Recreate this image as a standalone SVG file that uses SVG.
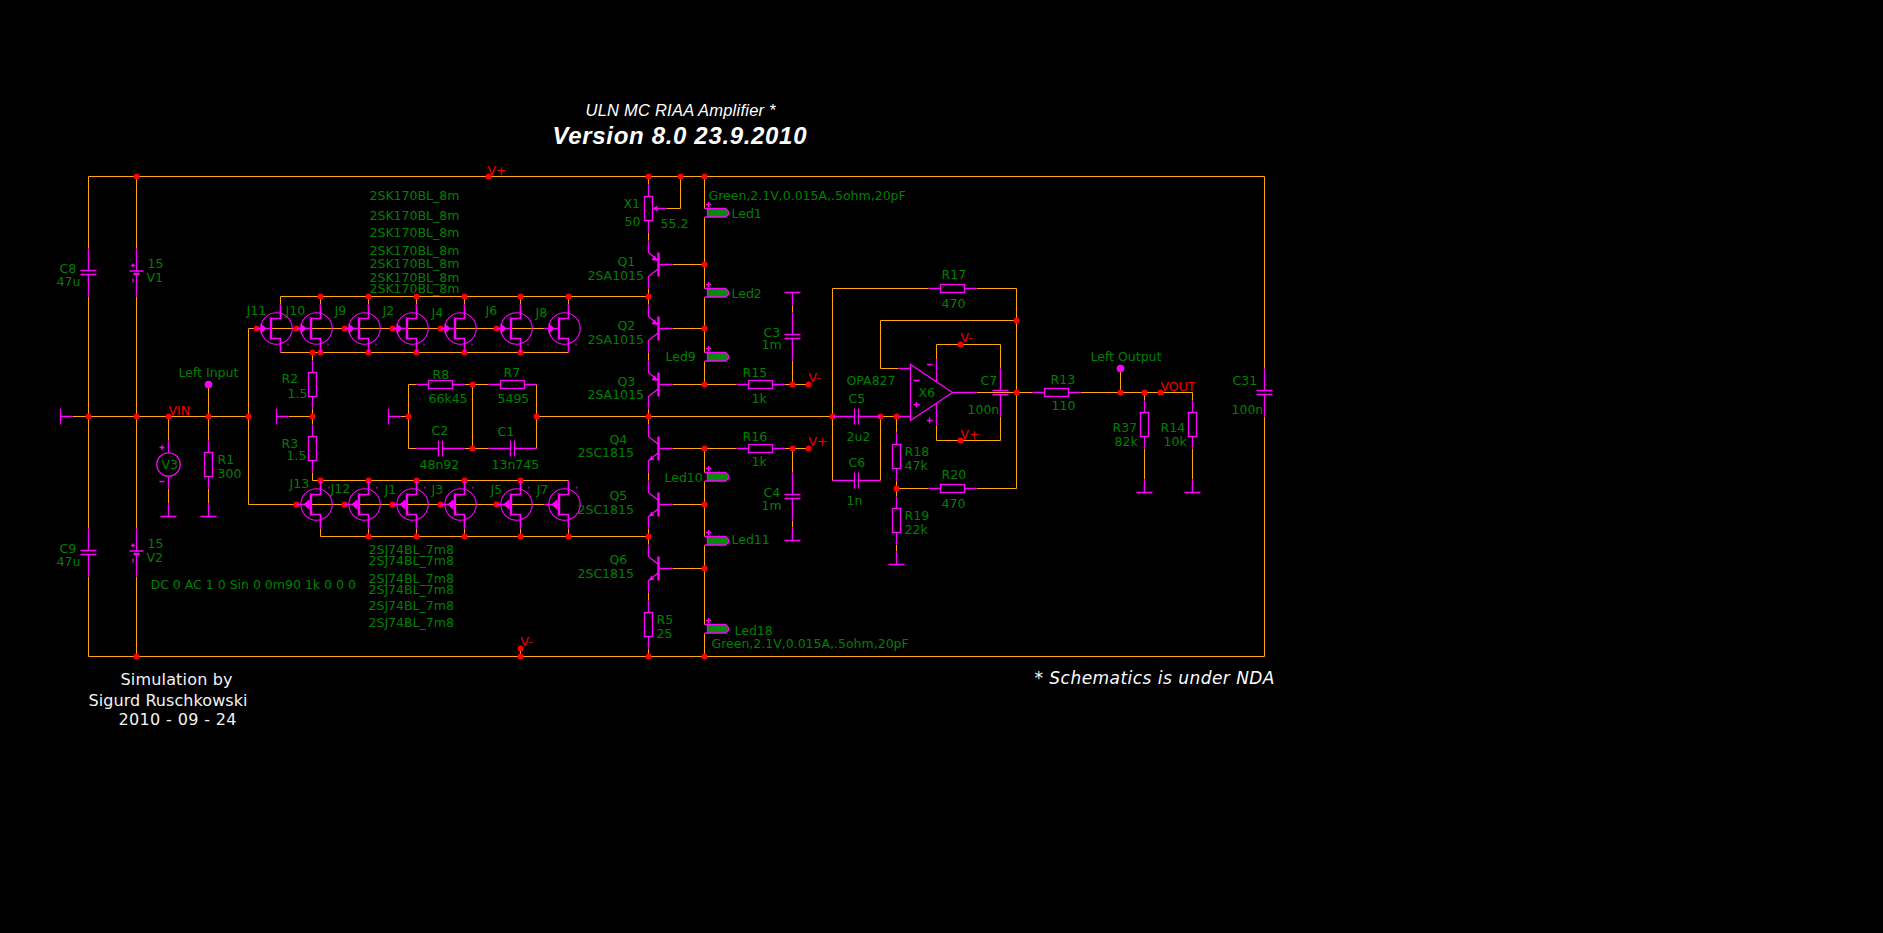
<svg xmlns="http://www.w3.org/2000/svg" width="1883" height="933" viewBox="0 0 1883 933">
<style>
.w{fill:none;stroke:#ffa80a;stroke-width:1}
.m{fill:none;stroke:#f0f;stroke-width:1.3}
.t{fill:none;stroke:#f0f;stroke-width:1.7}
.c{fill:none;stroke:#f0f;stroke-width:1.1}
.p{fill:#f0f;stroke:none}
.b{fill:none;stroke:#f0f;stroke-width:2.400}
.l{fill:#078a07;stroke:#f0f;stroke-width:1.3}
.e{fill:#f00}
text{font-family:"DejaVu Sans","Liberation Sans",sans-serif;font-size:12.5px;fill:#008000}
text.r{fill:#f00000}
text.wh{fill:#f4f4f4;font-size:16px}
text.nda{fill:#fff;font-size:17px;font-style:italic}
text.t1{fill:#fff;font-family:"Liberation Sans",Arial,sans-serif;font-style:italic;font-size:16.5px}
text.t2{fill:#fff;font-family:"Liberation Sans",Arial,sans-serif;font-style:italic;font-weight:bold;font-size:24px}
</style>
<defs>
<g id="rh"><path class="m" d="M-24 0H-12M12 0H24"/><rect class="m" x="-12" y="-4" width="24" height="8"/></g>
<g id="rv"><path class="m" d="M0 -24V-12M0 12V24"/><rect class="m" x="-4" y="-12" width="8" height="24"/></g>
<path id="ch" class="m" d="M-24 0H-2M2 0H24M-2 -8V8M2 -8V8"/>
<path id="cv" class="m" d="M0 -24V-2M0 2V24M-8 -2H8M-8 2H8"/>
<path id="gd" class="m" d="M-8 0H8M0 0V-13"/>
<path id="gu" class="m" d="M-8 0H8M0 0V13"/>
<path id="gl" class="m" d="M0 -8V8M0 0H12"/>
<path id="bat" class="m" d="M0 -24V-2M0 2V24M-7 -1.500H7M-3 2H3M-3 1H3M-5.500 -7H-1.500M-3.500 -9V-5M-3.500 6V10"/>
<g id="led"><path class="l" d="M3 0H21L24 3V6L21 8.500H3Z"/><path class="m" d="M0 0H3M0 8.500H3M4 -6.500V-1.500M1.500 -4H6.500"/></g>
<g id="jn"><circle class="c" cx="-4" r="15.700"/><path class="t" d="M0 -24V-10H-9.500M0 24V10H-9.500M-24 0H-9.500"/><path class="b" d="M-9.500 -11V11"/><polygon class="p" points="-20,-5.500 -14,0 -20,5.500"/><rect class="p" x="7" y="15" width="1" height="2"/></g>
<g id="jp"><circle class="c" cx="-4" r="15.700"/><path class="t" d="M0 -24V-10H-9.500M0 24V10H-9.500M-24 0H-9.500"/><path class="b" d="M-9.500 -11V11"/><polygon class="p" points="-11,-5.500 -17,0 -11,5.500"/><rect class="p" x="8" y="-18" width="1" height="2"/></g>
<g id="qp"><path class="m" d="M0 -24V-12L10 -4M10 4L0 12V24M11 0H24"/><path class="b" d="M10 -12V12"/><polygon class="p" points="9,-3.500 3,-4.500 6,-9"/></g>
<g id="qn"><path class="m" d="M0 -24V-12L10 -4M10 4L0 12V24M11 0H24"/><path class="b" d="M10 -12V12"/><polygon class="p" points="0,12 6,11 3,7"/></g>
<circle id="n" class="e" r="2.900"/>
<circle id="mn" class="p" r="3.800"/>
</defs>
<rect width="1883" height="933" fill="#000"/>
<g transform="translate(.5 .5)">
<g id="connectors">
<path class="w" d="M88 248V176H1264V368M1264 416V656H88V576M88 528V296M136 176V248M136 296V528M136 576V656M72 416H248M248 328V504M248 328H544M248 504H544M168 416V440M168 488V503M208 384V440M208 488V503"/>
<path class="w" d="M648 296H280V304M320 296V304M368 296V304M416 296V304M464 296V304M520 296V304M568 296V304M280 352H568M312 352V360M312 408V424M312 472V480H568M288 416H312M400 416H408M408 384V448H416M408 384H416M464 384H488M464 448H488M536 384V448M472 384V448M536 416H832"/>
<path class="w" d="M320 528V536H648M368 528V536M416 528V536M464 528V536M520 528V536M568 528V536M520 648V656"/>
<path class="w" d="M648 176V184M648 232V240M648 288V304M648 352V360M648 408V424M648 472V480M648 528V544M648 592V600M648 648V656M666 208H680V176M704 176V208M704 217V288M704 297V352M704 361V384M704 448V472M704 481V536M704 545V624M704 633V656M672 264H704M672 328H704M672 384H736M672 448H736M672 504H704M672 568H704M784 384H808M784 448H808M792 305V312M792 360V384M792 448V472M792 520V527"/>
<path class="w" d="M928 288H832V480M976 288H1016V488H976M928 488H896M880 480V416M880 416H898M896 416V432M896 480V496M896 544V551M1016 320H880V368H898M936 359V344H1000V368M936 425V440H1000V416M976 392H1032M1080 392H1192V400M1144 392V400M1144 448V479M1192 448V479M1120 368V392"/>
<g id="junctions">
<use href="#n" x="136" y="176"/><use href="#n" x="488" y="176"/><use href="#n" x="648" y="176"/><use href="#n" x="680" y="176"/><use href="#n" x="704" y="176"/>
<use href="#n" x="88" y="416"/><use href="#n" x="136" y="416"/><use href="#n" x="168" y="416"/><use href="#n" x="208" y="416"/><use href="#n" x="248" y="416"/><use href="#n" x="312" y="416"/><use href="#n" x="408" y="416"/><use href="#n" x="536" y="416"/><use href="#n" x="648" y="416"/><use href="#n" x="832" y="416"/><use href="#n" x="880" y="416"/><use href="#n" x="896" y="416"/>
<use href="#n" x="320" y="296"/><use href="#n" x="368" y="296"/><use href="#n" x="416" y="296"/><use href="#n" x="464" y="296"/><use href="#n" x="520" y="296"/><use href="#n" x="568" y="296"/><use href="#n" x="648" y="296"/>
<use href="#n" x="312" y="352"/><use href="#n" x="320" y="352"/><use href="#n" x="368" y="352"/><use href="#n" x="416" y="352"/><use href="#n" x="464" y="352"/><use href="#n" x="520" y="352"/>
<use href="#n" x="256" y="328"/><use href="#n" x="296" y="328"/><use href="#n" x="344" y="328"/><use href="#n" x="392" y="328"/><use href="#n" x="440" y="328"/><use href="#n" x="496" y="328"/>
<use href="#n" x="320" y="480"/><use href="#n" x="368" y="480"/><use href="#n" x="416" y="480"/><use href="#n" x="464" y="480"/><use href="#n" x="520" y="480"/>
<use href="#n" x="296" y="504"/><use href="#n" x="344" y="504"/><use href="#n" x="392" y="504"/><use href="#n" x="440" y="504"/><use href="#n" x="496" y="504"/>
<use href="#n" x="368" y="536"/><use href="#n" x="416" y="536"/><use href="#n" x="464" y="536"/><use href="#n" x="520" y="536"/><use href="#n" x="568" y="536"/><use href="#n" x="648" y="536"/>
<use href="#n" x="472" y="384"/><use href="#n" x="472" y="448"/>
<use href="#n" x="704" y="264"/><use href="#n" x="704" y="328"/><use href="#n" x="704" y="384"/><use href="#n" x="704" y="448"/><use href="#n" x="704" y="504"/><use href="#n" x="704" y="568"/>
<use href="#n" x="792" y="384"/><use href="#n" x="808" y="384"/><use href="#n" x="792" y="448"/><use href="#n" x="808" y="448"/>
<use href="#n" x="1016" y="320"/><use href="#n" x="1016" y="392"/><use href="#n" x="896" y="488"/><use href="#n" x="960" y="344"/><use href="#n" x="960" y="440"/><use href="#n" x="1120" y="392"/><use href="#n" x="1144" y="392"/><use href="#n" x="1160" y="392"/>
<use href="#n" x="136" y="656"/><use href="#n" x="520" y="648"/><use href="#n" x="520" y="656"/><use href="#n" x="648" y="656"/><use href="#n" x="704" y="656"/>
</g>
</g>
<g id="net-labels">
<text class="r" x="487" y="174">V+</text><text class="r" x="520" y="645">V-</text><text class="r" x="168" y="414">VIN</text><text class="r" x="808" y="381">V-</text><text class="r" x="808" y="445">V+</text><text class="r" x="960" y="341">V-</text><text class="r" x="960" y="438">V+</text><text class="r" x="1160" y="390">VOUT</text>
</g>
<g id="titles">
<text class="t1" x="585" y="115" textLength="190">ULN MC RIAA Amplifier *</text>
<text class="t2" x="552" y="143" textLength="254">Version 8.0 23.9.2010</text>
<text class="nda" x="1034" y="683" textLength="240">* Schematics is under NDA</text>
<text class="wh" x="120" y="684" textLength="112">Simulation by</text>
<text class="wh" x="88" y="705" textLength="159">Sigurd Ruschkowski</text>
<text class="wh" x="118" y="724" textLength="118">2010 - 09 - 24</text>
<text x="150" y="588">DC 0 AC 1 0 Sin 0 0m90 1k 0 0 0</text>
</g>
<g id="gnd-left"><use href="#gl" x="60" y="416"/></g>
<g id="gnd-r2"><use href="#gl" x="276" y="416"/></g>
<g id="gnd-r8"><use href="#gl" x="388" y="416"/></g>
<g id="C8"><use href="#cv" x="88" y="272"/><text x="59" y="272">C8</text><text x="56" y="285">47u</text></g>
<g id="C9"><use href="#cv" x="88" y="552"/><text x="59" y="552">C9</text><text x="56" y="565">47u</text></g>
<g id="V1"><use href="#bat" x="136" y="272"/><text x="147" y="267">15</text><text x="146" y="281">V1</text></g>
<g id="V2"><use href="#bat" x="136" y="552"/><text x="147" y="547">15</text><text x="146" y="561">V2</text></g>
<g id="V3"><circle class="m" cx="168" cy="464" r="11.700"/><path class="m" d="M168 440V452M168 476V488M159 447H164M161.500 444.500V449.500M159 481H164"/><use href="#gd" x="168" y="516"/><text x="161" y="468">V3</text></g>
<g id="R1"><use href="#rv" x="208" y="464"/><use href="#gd" x="208" y="516"/><text x="217" y="463">R1</text><text x="217" y="477">300</text></g>
<g id="left-input"><use href="#mn" x="208" y="384"/><text x="178" y="376">Left Input</text></g>
<g id="R2"><use href="#rv" x="312" y="384"/><text x="281" y="382">R2</text><text x="287" y="397">1.5</text></g>
<g id="R3"><use href="#rv" x="312" y="448"/><text x="281" y="447">R3</text><text x="286" y="459">1.5</text></g>
<g id="R8"><use href="#rh" x="440" y="384"/><text x="432" y="378">R8</text><text x="428" y="402">66k45</text></g>
<g id="R7"><use href="#rh" x="512" y="384"/><text x="503" y="376">R7</text><text x="497" y="402">5495</text></g>
<g id="C2"><use href="#ch" x="440" y="448"/><text x="431" y="434">C2</text><text x="419" y="468">48n92</text></g>
<g id="C1"><use href="#ch" x="512" y="448"/><text x="497" y="435">C1</text><text x="491" y="468">13n745</text></g>
<g id="J11"><use href="#jn" x="280" y="328"/><text x="246" y="314">J11</text><text x="369" y="292">2SK170BL_8m</text></g>
<g id="J10"><use href="#jn" x="320" y="328"/><text x="285" y="314">J10</text><text x="369" y="281">2SK170BL_8m</text></g>
<g id="J9"><use href="#jn" x="368" y="328"/><text x="334" y="314">J9</text><text x="369" y="267">2SK170BL_8m</text></g>
<g id="J2"><use href="#jn" x="416" y="328"/><text x="382" y="314">J2</text><text x="369" y="254">2SK170BL_8m</text></g>
<g id="J4"><use href="#jn" x="464" y="328"/><text x="431" y="316">J4</text><text x="369" y="236">2SK170BL_8m</text></g>
<g id="J6"><use href="#jn" x="520" y="328"/><text x="485" y="314">J6</text><text x="369" y="219">2SK170BL_8m</text></g>
<g id="J8"><use href="#jn" x="568" y="328"/><text x="535" y="316">J8</text><text x="369" y="199">2SK170BL_8m</text></g>
<g id="J13"><use href="#jp" x="320" y="504"/><text x="289" y="487">J13</text><text x="368" y="553">2SJ74BL_7m8</text></g>
<g id="J12"><use href="#jp" x="368" y="504"/><text x="330" y="492">J12</text><text x="368" y="564">2SJ74BL_7m8</text></g>
<g id="J1"><use href="#jp" x="416" y="504"/><text x="384" y="493">J1</text><text x="368" y="582">2SJ74BL_7m8</text></g>
<g id="J3"><use href="#jp" x="464" y="504"/><text x="431" y="493">J3</text><text x="368" y="593">2SJ74BL_7m8</text></g>
<g id="J5"><use href="#jp" x="520" y="504"/><text x="490" y="493">J5</text><text x="368" y="609">2SJ74BL_7m8</text></g>
<g id="J7"><use href="#jp" x="568" y="504"/><text x="536" y="493">J7</text><text x="368" y="626">2SJ74BL_7m8</text></g>
<g id="X1"><use href="#rv" x="648" y="208"/><path class="m" d="M652 208H666"/><polygon class="p" points="652,208 657,205 657,211"/><text x="623" y="207">X1</text><text x="624" y="225">50</text><text x="660" y="227">55.2</text></g>
<g id="Q1"><use href="#qp" x="648" y="264"/><text x="617" y="265">Q1</text><text x="587" y="279">2SA1015</text></g>
<g id="Q2"><use href="#qp" x="648" y="328"/><text x="617" y="329">Q2</text><text x="587" y="343">2SA1015</text></g>
<g id="Q3"><use href="#qp" x="648" y="384"/><text x="617" y="385">Q3</text><text x="587" y="398">2SA1015</text></g>
<g id="Q4"><use href="#qn" x="648" y="448"/><text x="609" y="443">Q4</text><text x="577" y="456">2SC1815</text></g>
<g id="Q5"><use href="#qn" x="648" y="504"/><text x="609" y="499">Q5</text><text x="577" y="513">2SC1815</text></g>
<g id="Q6"><use href="#qn" x="648" y="568"/><text x="609" y="563">Q6</text><text x="577" y="577">2SC1815</text></g>
<g id="R5"><use href="#rv" x="648" y="624"/><text x="656" y="623">R5</text><text x="656" y="637">25</text></g>
<g id="Led1"><use href="#led" x="704" y="208"/><text x="731" y="217">Led1</text><text x="708" y="199">Green,2.1V,0.015A,.5ohm,20pF</text></g>
<g id="Led2"><use href="#led" x="704" y="288"/><text x="731" y="297">Led2</text></g>
<g id="Led9"><use href="#led" x="704" y="352"/><text x="665" y="360">Led9</text></g>
<g id="Led10"><use href="#led" x="704" y="472"/><text x="664" y="481">Led10</text></g>
<g id="Led11"><use href="#led" x="704" y="536"/><text x="731" y="543">Led11</text></g>
<g id="Led18"><use href="#led" x="704" y="624"/><text x="734" y="634">Led18</text><text x="711" y="647">Green,2.1V,0.015A,.5ohm,20pF</text></g>
<g id="R15"><use href="#rh" x="760" y="384"/><text x="742" y="376">R15</text><text x="751" y="402">1k</text></g>
<g id="R16"><use href="#rh" x="760" y="448"/><text x="742" y="440">R16</text><text x="751" y="465">1k</text></g>
<g id="C3"><use href="#cv" x="792" y="336"/><use href="#gu" x="792" y="292"/><text x="763" y="336">C3</text><text x="761" y="348">1m</text></g>
<g id="C4"><use href="#cv" x="792" y="496"/><use href="#gd" x="792" y="540"/><text x="763" y="496">C4</text><text x="761" y="509">1m</text></g>
<g id="C5"><use href="#ch" x="856" y="416"/><text x="848" y="402">C5</text><text x="846" y="440">2u2</text></g>
<g id="C6"><use href="#ch" x="856" y="480"/><text x="848" y="466">C6</text><text x="846" y="504">1n</text></g>
<g id="R17"><use href="#rh" x="952" y="288"/><text x="941" y="278">R17</text><text x="941" y="307">470</text></g>
<g id="R20"><use href="#rh" x="952" y="488"/><text x="941" y="478">R20</text><text x="941" y="507">470</text></g>
<g id="R18"><use href="#rv" x="896" y="456"/><text x="904" y="455">R18</text><text x="904" y="469">47k</text></g>
<g id="R19"><use href="#rv" x="896" y="520"/><use href="#gd" x="896" y="564"/><text x="904" y="519">R19</text><text x="904" y="533">22k</text></g>
<g id="X6"><polygon class="m" points="910,364 910,420 952,392"/><path class="m" d="M898 368H910M898 416H910M936 359V381M936 403V425M952 392H976M913 380H919M916 401.500V407M913 404H919M926.500 364H932M926.500 420H932M929 417V423"/><text x="918" y="396">X6</text><text x="846" y="384">OPA827</text></g>
<g id="C7"><use href="#cv" x="1000" y="392"/><text x="980" y="384">C7</text><text x="967" y="413">100n</text></g>
<g id="R13"><use href="#rh" x="1056" y="392"/><text x="1050" y="383">R13</text><text x="1051" y="409">110</text></g>
<g id="left-output"><use href="#mn" x="1120" y="368"/><text x="1090" y="360">Left Output</text></g>
<g id="R37"><use href="#rv" x="1144" y="424"/><use href="#gd" x="1144" y="492"/><text x="1112" y="431">R37</text><text x="1114" y="445">82k</text></g>
<g id="R14"><use href="#rv" x="1192" y="424"/><use href="#gd" x="1192" y="492"/><text x="1160" y="431">R14</text><text x="1163" y="445">10k</text></g>
<g id="C31"><use href="#cv" x="1264" y="392"/><text x="1232" y="384">C31</text><text x="1231" y="413">100n</text></g>
</g>
</svg>
